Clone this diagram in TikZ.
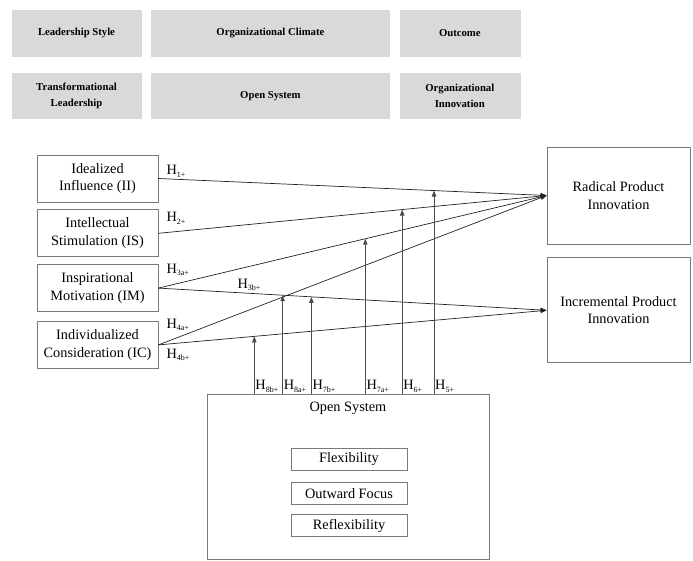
\documentclass[tikz,border=0pt]{standalone}
\usepackage{fontspec}
\setmainfont{Liberation Serif}
\usetikzlibrary{arrows.meta,positioning,calc}
\definecolor{HeadGray}{HTML}{D9D9D9}
\definecolor{BoxLine}{HTML}{7A7A7A}
\definecolor{PathLine}{HTML}{222222}
\definecolor{ModLine}{HTML}{4D4D4D}
\newcommand{\hypo}[1]{H\raisebox{-2.5pt}{\fontsize{8}{8}\selectfont #1}}
\tikzset{
  headnode/.style={fill=HeadGray,draw=white,minimum height=47pt,align=center,font=\bfseries\fontsize{10.7}{16}\selectfont,inner sep=2pt},
  leadnode/.style={draw=BoxLine,line width=0.8pt,minimum width=121pt,minimum height=47pt,align=center,font=\fontsize{14.3}{17.5}\selectfont,inner sep=2pt},
  outnode/.style={draw=BoxLine,line width=0.8pt,minimum width=143pt,align=center,font=\fontsize{14.3}{17.5}\selectfont},
  climnode/.style={draw=BoxLine,line width=0.8pt,minimum width=282pt,minimum height=165pt},
  dimnode/.style={draw=BoxLine,line width=0.8pt,minimum width=116pt,minimum height=22pt,inner sep=1pt,font=\fontsize{14.3}{17.5}\selectfont},
  hyparrow/.style={-{Triangle[length=6pt,width=4.5pt]},line width=0.7pt,draw=PathLine},
  modarrow/.style={-{Triangle[length=6pt,width=4.5pt]},line width=0.7pt,draw=ModLine},
  hlabel/.style={font=\fontsize{14.3}{16}\selectfont,inner sep=1pt}
}
\begin{document}
\begin{tikzpicture}[x=1pt,y=-1pt]
\useasboundingbox (0,0) rectangle (693,560);
% header rows
\node[headnode,minimum width=131pt,minimum height=48pt] (hls) at (76.5,33) {Leadership Style};
\node[headnode,minimum width=240pt,minimum height=48pt,right=8pt of hls] (hoc) {Organizational Climate};
\node[headnode,minimum width=122pt,minimum height=48pt,right=8pt of hoc] (hout) {Outcome};
\node[headnode,minimum width=131pt,below=15pt of hls] (htl) {Transformational\\Leadership};
\node[headnode,minimum width=240pt,below=15pt of hoc] (hos) {Open System};
\node[headnode,minimum width=122pt,below=15pt of hout] (hoi) {Organizational\\Innovation};
% leadership dimensions
\node[leadnode] (ii) at (97.5,178.5) {Idealized\\Influence (II)};
\node[leadnode,below=7pt of ii] (is) {Intellectual\\Stimulation (IS)};
\node[leadnode,below=7pt of is] (im) {Inspirational\\Motivation (IM)};
\node[leadnode,below=9pt of im] (ic) {Individualized\\Consideration (IC)};
% outcomes
\node[outnode,minimum height=97pt] (rpi) at (618.5,195.5) {Radical Product\\Innovation};
\node[outnode,minimum height=105pt,below=13pt of rpi] (ipi) {Incremental Product\\Innovation};
% open system
\node[climnode] (os) at (348,476.5) {};
\node[hlabel,anchor=north] (ostitle) at ([yshift=-7pt]os.north) {Open System};
\node[dimnode] (flex) at (349,459) {Flexibility};
\node[dimnode,below=12pt of flex] (outw) {Outward Focus};
\node[dimnode,below=9pt of outw] (refl) {Reflexibility};
% direct paths
\draw[hyparrow] (ii.east) -- (rpi.west);
\draw[hyparrow] (is.east) -- (rpi.west);
\draw[hyparrow] (im.east) -- (rpi.west);
\draw[hyparrow] (ic.east) -- (rpi.west);
\draw[hyparrow] (im.east) -- (ipi.west);
\draw[hyparrow] (ic.east) -- (ipi.west);
\node[hlabel,anchor=west] (l1) at ([xshift=7pt,yshift=7pt]ii.east) {\hypo{1+}};
\node[hlabel,anchor=west] (l2) at ([xshift=7pt,yshift=15pt]is.east) {\hypo{2+}};
\node[hlabel,anchor=west] (l3a) at ([xshift=7pt,yshift=18pt]im.east) {\hypo{3a+}};
\node[hlabel,anchor=west] (l3b) at ([xshift=78pt,yshift=3pt]im.east) {\hypo{3b+}};
\node[hlabel,anchor=west] (l4a) at ([xshift=7pt,yshift=20pt]ic.east) {\hypo{4a+}};
\node[hlabel,anchor=west] (l4b) at ([xshift=7pt,yshift=-10pt]ic.east) {\hypo{4b+}};
% moderating paths
\coordinate (m5) at ($(ii.east)!0.71!(rpi.west)$);
\coordinate (m6) at ($(is.east)!0.628!(rpi.west)$);
\coordinate (m7a) at ($(im.east)!0.533!(rpi.west)$);
\coordinate (m7b) at ($(im.east)!0.394!(ipi.west)$);
\coordinate (m8a) at ($(im.east)!0.32!(ipi.west)$);
\coordinate (m8b) at ($(ic.east)!0.247!(ipi.west)$);
\foreach \m/\t in {8b/8b+,8a/8a+,7b/7b+,7a/7a+,6/6+,5/5+}{
  \draw[modarrow] (os.north -| m\m) -- (m\m);
  \node[hlabel,anchor=south west] (lm\m) at (os.north -| m\m) {\hypo{\t}};
}
\end{tikzpicture}
\end{document}
